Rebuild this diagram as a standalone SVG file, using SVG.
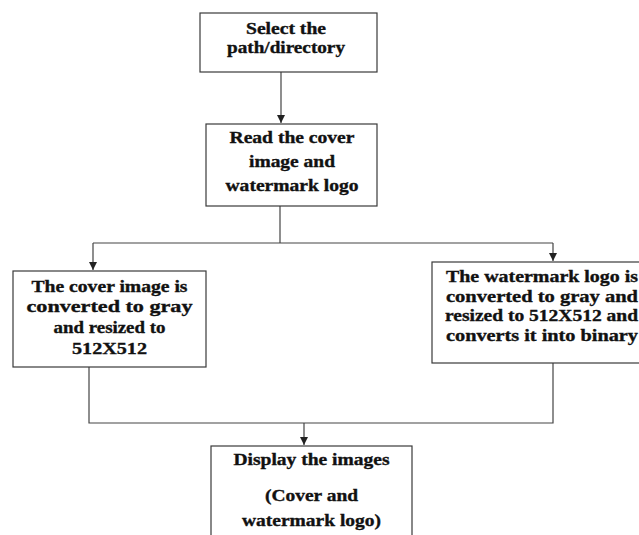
<svg xmlns="http://www.w3.org/2000/svg" width="639" height="535" viewBox="0 0 639 535">
<style>
.box{fill:#fff;stroke:#3a3a3a;stroke-width:1.2}
.t{font-family:"Liberation Serif","Times New Roman",serif;font-weight:bold;font-size:17px;fill:#111;stroke:#111;stroke-width:0.35}
.c{text-anchor:middle}
.ln{fill:none;stroke:#444;stroke-width:1.2}
</style>
<defs>
<marker id="ah" viewBox="0 0 8 8" refX="8" refY="4" markerWidth="8" markerHeight="8" markerUnits="userSpaceOnUse" orient="auto">
<path d="M0,0 L8,4 L0,8 z" fill="#222"/>
</marker>
</defs>
<rect width="639" height="535" fill="#fff"/>
<g id="connectors">
<path class="ln" d="M281,72 V123" marker-end="url(#ah)"/>
<path class="ln" d="M280,206 V243"/>
<path class="ln" d="M93,243 H553"/>
<path class="ln" d="M93,243 V270" marker-end="url(#ah)"/>
<path class="ln" d="M553,243 V261" marker-end="url(#ah)"/>
<path class="ln" d="M89,367 V423 H553 V363"/>
<path class="ln" d="M304,423 V445" marker-end="url(#ah)"/>
</g>
<g id="n1">
<rect class="box" x="200" y="13" width="177" height="59"/>
<text class="t c" x="286" y="34" textLength="80" lengthAdjust="spacingAndGlyphs">Select the</text>
<text class="t c" x="286" y="53" textLength="118" lengthAdjust="spacingAndGlyphs">path/directory</text>
</g>
<g id="n2">
<rect class="box" x="206" y="124" width="171" height="82"/>
<text class="t c" x="292" y="143" textLength="125" lengthAdjust="spacingAndGlyphs">Read the cover</text>
<text class="t c" x="292" y="167" textLength="86" lengthAdjust="spacingAndGlyphs">image and</text>
<text class="t c" x="292" y="191" textLength="133" lengthAdjust="spacingAndGlyphs">watermark logo</text>
</g>
<g id="n3">
<rect class="box" x="13" y="271" width="193" height="96"/>
<text class="t c" x="109.5" y="292" textLength="156" lengthAdjust="spacingAndGlyphs">The cover image is</text>
<text class="t c" x="109.5" y="312" textLength="166" lengthAdjust="spacingAndGlyphs">converted to gray</text>
<text class="t c" x="109.5" y="333" textLength="112" lengthAdjust="spacingAndGlyphs">and resized to</text>
<text class="t c" x="109.5" y="354" textLength="75" lengthAdjust="spacingAndGlyphs">512X512</text>
</g>
<g id="n4">
<rect class="box" x="432" y="262" width="220" height="101"/>
<text class="t" x="446" y="282" textLength="192" lengthAdjust="spacingAndGlyphs">The watermark logo is</text>
<text class="t" x="446" y="301.5" textLength="192" lengthAdjust="spacingAndGlyphs">converted to gray and</text>
<text class="t" x="445" y="321" textLength="193" lengthAdjust="spacingAndGlyphs">resized to 512X512 and</text>
<text class="t" x="446" y="341" textLength="192" lengthAdjust="spacingAndGlyphs">converts it into binary</text>
</g>
<g id="n5">
<rect class="box" x="211" y="446" width="201" height="100"/>
<text class="t c" x="311.5" y="465" textLength="156" lengthAdjust="spacingAndGlyphs">Display the images</text>
<text class="t c" x="311.5" y="501" textLength="93" lengthAdjust="spacingAndGlyphs">(Cover and</text>
<text class="t c" x="311.5" y="526" textLength="139" lengthAdjust="spacingAndGlyphs">watermark logo)</text>
</g>
</svg>
